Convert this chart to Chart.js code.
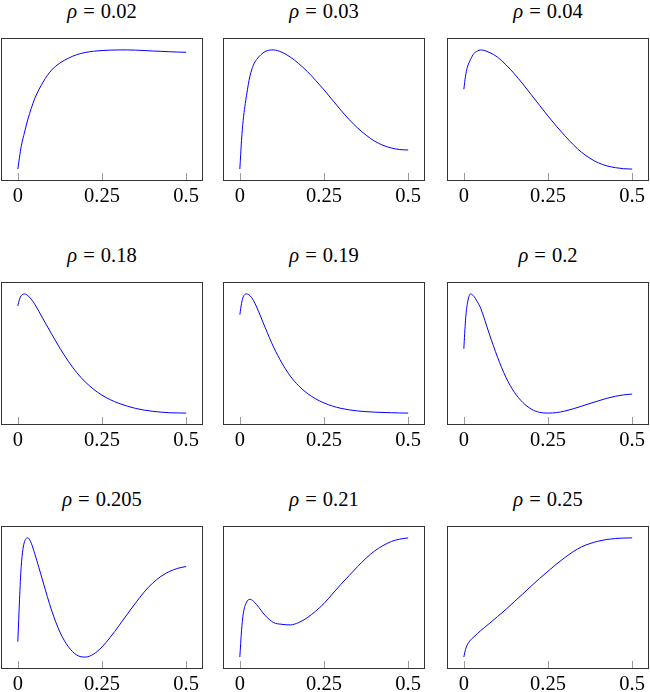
<!DOCTYPE html>
<html>
<head>
<meta charset="utf-8">
<script src="https://cdn.jsdelivr.net/npm/chart.js@4.4.1/dist/chart.umd.min.js"></script>
<style>
  body { margin: 0; background: #fff; }
  #wrap { position: relative; width: 650px; height: 692px; overflow: hidden; }
  canvas { position: absolute; }
  .ttl { position: absolute; width: 202px; text-align: center; font-family: "Liberation Serif", "DejaVu Serif", serif; font-size: 20.5px; line-height: 20px; color: #000; white-space: nowrap; }
  .ttl .eq { margin: 0 6px; }
</style>
</head>
<body>
<div id="wrap"></div>
<script>
// shared x samples and tick labels
const xs = [0, 0.005, 0.01, 0.02, 0.03, 0.04, 0.05, 0.075, 0.1, 0.125, 0.15, 0.175, 0.2,
            0.225, 0.25, 0.275, 0.3, 0.325, 0.35, 0.375, 0.4, 0.425, 0.45, 0.475, 0.5];
const xTicks = [0, 0.25, 0.5];
const rhoLabels = ['0.02', '0.03', '0.04', '0.18', '0.19', '0.2', '0.205', '0.21', '0.25'];

// curves (no y scale shown, so values are relative 0..1)
const rho002 = [0, 0.10, 0.19, 0.31, 0.42, 0.51, 0.59, 0.73, 0.83, 0.89, 0.93, 0.96, 0.978,
                0.989, 0.995, 0.998, 1.0, 1.0, 0.998, 0.995, 0.991, 0.988, 0.985, 0.982, 0.98];
const rho003 = [0, 0.24, 0.41, 0.62, 0.78, 0.87, 0.92, 0.986, 1.0, 0.98, 0.94, 0.885, 0.82,
                0.745, 0.665, 0.58, 0.495, 0.415, 0.345, 0.285, 0.235, 0.20, 0.177, 0.164, 0.16];
const rho004 = [0.67, 0.78, 0.85, 0.92, 0.97, 0.99, 1.0, 0.98, 0.94, 0.875, 0.80, 0.715, 0.625,
                0.535, 0.445, 0.36, 0.28, 0.205, 0.14, 0.09, 0.052, 0.027, 0.012, 0.003, 0];
const rho018 = [0.90, 0.955, 0.985, 1.0, 0.985, 0.955, 0.915, 0.79, 0.665, 0.545, 0.435, 0.34, 0.262,
                0.2, 0.15, 0.112, 0.082, 0.058, 0.039, 0.025, 0.015, 0.008, 0.003, 0.001, 0];
const rho019 = [0.826, 0.92, 0.975, 1.0, 0.986, 0.947, 0.89, 0.72, 0.555, 0.42, 0.31, 0.228, 0.166,
                0.12, 0.085, 0.059, 0.04, 0.027, 0.018, 0.012, 0.008, 0.005, 0.003, 0.001, 0];
const rho020 = [0.54, 0.78, 0.91, 1.0, 0.98, 0.935, 0.88, 0.67, 0.47, 0.30, 0.175, 0.09, 0.034,
                0.006, 0, 0.004, 0.017, 0.036, 0.058, 0.081, 0.103, 0.124, 0.141, 0.153, 0.16];
const rho0205 = [0.13, 0.48, 0.76, 0.97, 1.0, 0.955, 0.87, 0.63, 0.395, 0.21, 0.087, 0.017, 0,
                 0.025, 0.085, 0.168, 0.262, 0.36, 0.455, 0.545, 0.62, 0.677, 0.718, 0.745, 0.76];
const rho021 = [0, 0.22, 0.36, 0.46, 0.485, 0.47, 0.44, 0.35, 0.29, 0.275, 0.27, 0.29, 0.33,
                0.385, 0.45, 0.53, 0.61, 0.685, 0.76, 0.83, 0.89, 0.935, 0.97, 0.99, 1.0];
const rho025 = [0, 0.064, 0.10, 0.143, 0.17, 0.196, 0.222, 0.28, 0.34, 0.40, 0.465, 0.53, 0.595,
                0.66, 0.72, 0.78, 0.835, 0.885, 0.925, 0.953, 0.973, 0.987, 0.995, 0.999, 1.0];

const series = [rho002, rho003, rho004, rho018, rho019, rho020, rho0205, rho021, rho025];

const colLeft = [1, 223, 447];
const rowTop = [38, 282, 526];
const boxW = 202, boxH = 143, axisH = 31;
const serif = "'Liberation Serif', 'DejaVu Serif', serif";

// frame round the plot area plus small inward ticks at the bottom
const framePlugin = {
  id: 'frame',
  afterDraw(chart) {
    const ctx = chart.ctx, a = chart.chartArea, sx = chart.scales.x;
    ctx.save();
    ctx.strokeStyle = '#9a9a9a';
    ctx.lineWidth = 1;
    xTicks.forEach(t => {
      const px = Math.round(sx.getPixelForValue(t)) + 0.5;
      ctx.beginPath();
      ctx.moveTo(px, a.bottom);
      ctx.lineTo(px, a.bottom - 8);
      ctx.stroke();
    });
    ctx.strokeStyle = '#333';
    ctx.strokeRect(a.left + 0.5, a.top + 0.5, a.width - 1, a.height - 1);
    ctx.restore();
  }
};

const wrap = document.getElementById('wrap');

series.forEach((ys, i) => {
  const left = colLeft[i % 3], top = rowTop[Math.floor(i / 3)];

  const t = document.createElement('div');
  t.className = 'ttl';
  t.style.left = left + 'px';
  t.style.top = (top - 37) + 'px';
  t.innerHTML = '<i>ρ</i><span class="eq">=</span>' + rhoLabels[i];
  wrap.appendChild(t);

  const c = document.createElement('canvas');
  c.width = boxW + 2;
  c.height = 1 + boxH + axisH;
  c.style.left = (left - 1) + 'px';
  c.style.top = (top - 1) + 'px';
  wrap.appendChild(c);

  new Chart(c, {
    type: 'line',
    data: {
      datasets: [{
        data: xs.map((x, k) => ({ x: x, y: ys[k] })),
        borderColor: '#0000ff',
        borderWidth: 1,
        pointRadius: 0,
        cubicInterpolationMode: 'monotone',
        fill: false
      }]
    },
    options: {
      responsive: false,
      animation: false,
      layout: { padding: { top: 1, left: 1, right: 1, bottom: 0 } },
      plugins: { legend: { display: false }, tooltip: { enabled: false } },
      scales: {
        x: {
          type: 'linear',
          min: -0.05,
          max: 0.55,
          afterBuildTicks: s => { s.ticks = xTicks.map(v => ({ value: v })); },
          afterFit: s => { s.height = axisH; },
          grid: { display: false, drawTicks: false },
          border: { display: false },
          ticks: {
            padding: 3,
            maxRotation: 0,
            color: '#000',
            font: { family: serif, size: 20.5 },
            callback: v => String(v)
          }
        },
        y: {
          display: false,
          min: -0.1,
          max: 1.1
        }
      }
    },
    plugins: [framePlugin]
  });
});
</script>
</body>
</html>
